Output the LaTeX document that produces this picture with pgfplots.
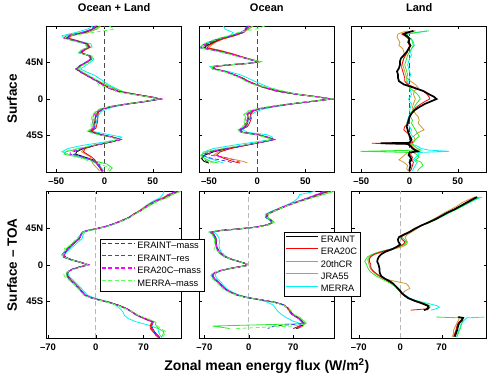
\documentclass[border=0pt]{standalone}
\usepackage{pgfplots}
\usepackage{pgfplotstable}
\pgfplotsset{compat=1.18}
\usepackage{fontspec}
\setmainfont{Liberation Sans}

\definecolor{cRed}{rgb}{1,0,0}
\definecolor{cGreen}{rgb}{0.15,0.92,0.15}
\definecolor{cGold}{rgb}{0.8,0.6,0.2}
\definecolor{cCyan}{rgb}{0,0.95,0.95}
\definecolor{cBlue}{rgb}{0.2,0.25,1}
\definecolor{cMag}{rgb}{1,0,1}
\definecolor{cLGreen}{rgb}{0.35,1,0.35}
\definecolor{cDash}{rgb}{0.25,0.25,0.25}

\pgfplotstableread{
lat A B C D E F G H I
90 -8 -9 -5 -4 -12 -7 -10 -9 5
86 -12 -13 -10 -8 -18 -12 -14 -13 10
82 -20 -22 -25 -17 -30 -21 -22 -24 -12
78 -36 -35 -40 -34 -44 -37 -36 -40 -38
75 -40 -38 -42 -37 -42 -40 -39 -42 -41
72 -30 -29 -33 -28 -30 -31 -30 -32 -34
68 -18 -18 -20 -17 -14 -19 -18 -20 -21
64 -16 -15 -17 -15 -13 -16 -17 -17 -18
60 -22 -21 -24 -21 -24 -22 -22 -23 -25
57 -25 -24 -26 -24 -27 -25 -26 -25 -27
53 -15 -15 -14 -16 -14 -15 -15 -16 -13
49 -14 -14 -13 -15 -11 -14 -14 -15 -12
45 -19 -19 -18 -20 -15 -19 -20 -19 -17
41 -25 -25 -24 -26 -20 -25 -26 -25 -23
37 -29 -29 -28 -30 -25 -29 -30 -29 -27
33 -24 -24 -23 -25 -18 -24 -25 -24 -22
29 -18 -18 -17 -19 -10 -18 -19 -18 -16
25 -12 -12 -11 -13 -5 -12 -13 -12 -10
21 -6 -6 -4 -7 0 -6 -7 -6 -8
17 -1 0 3 -2 5 -1 -2 -1 -6
13 6 7 10 5 12 6 5 6 9
9 15 16 20 14 18 15 14 15 12
5 35 36 35 34 36 35 34 35 33
2 50 51 49 49 52 50 50 51 48
0 58 57 56 57 58 58 57 59 56
-3 42 43 41 42 44 42 43 43 40
-6 24 25 23 24 26 24 25 24 22
-9 8 9 7 8 12 8 9 8 6
-12 -2 -1 -4 -2 3 -2 -1 -2 -5
-16 -7 -6 -9 -7 -4 -7 -6 -8 -10
-20 -9 -7 -12 -9 -6 -9 -8 -11 -13
-26 -10 -7 -12 -10 -8 -10 -9 -12 -14
-32 -11 -8 -13 -11 -9 -11 -10 -12 -14
-36 -11 -9 -13 -12 -10 -11 -11 -12 -14
-40 -15 -14 -17 -16 -12 -15 -15 -16 -18
-44 -4 -3 -6 -5 5 -4 -3 -5 -7
-47 8 9 7 7 18 8 9 8 6
-50 16 17 15 15 14 16 17 16 14
-53 6 7 5 5 0 6 7 6 4
-57 -10 -9 -11 -10 -22 -10 -10 -11 -12
-61 -22 -20 -26 -21 -38 -22 -23 -24 -28
-65 -29 -22 -40 -24 -44 -30 -32 -35 -44
-68 -30 -18 -42 -20 -38 -31 -33 -36 -40
-71 -22 -14 -30 -15 -26 -23 -24 -25 -28
-75 -12 -10 -15 -14 -15 -13 -14 -13 -20
-80 -6 -8 2 -12 -8 -7 -8 -7 -5
-85 -4 -5 8 -8 -3 -4 -5 -4 5
-89 -2 -3 5 -5 -1 -2 -3 -2 3
}\Pone

\pgfplotstableread{
lat A B C D E F G H I
90 -9 -8 -5 -4 -35 -9 -10 -8 8
86 -12 -11 -10 -9 -33 -12 -13 -12 -2
82 -15 -14 -18 -14 -25 -15 -16 -16 -20
78 -25 -24 -28 -23 -28 -26 -27 -27 -30
74 -38 -36 -40 -35 -40 -39 -41 -40 -43
70 -45 -44 -48 -43 -50 -47 -50 -49 -52
66 -52 -50 -55 -48 -57 -54 -58 -57 -58
63 -55 -52 -56 -50 -58 -56 -59 -58 -59
60 -42 -40 -44 -38 -45 -43 -45 -44 -46
56 -28 -27 -29 -26 -30 -28 -30 -29 -31
52 -17 -16 -17 -15 -18 -17 -18 -17 -19
48 -5 -4 -3 -4 -6 -5 -6 -5 -4
46 2 2 4 3 1 2 1 2 3
44 -8 -7 -6 -8 -10 -8 -9 -8 -7
42 -30 -29 -31 -30 -32 -30 -31 -30 -32
40 -45 -44 -47 -45 -49 -46 -47 -46 -48
37 -44 -44 -46 -45 -46 -45 -46 -45 -47
34 -33 -33 -34 -34 -30 -33 -34 -33 -35
30 -24 -24 -25 -25 -18 -24 -25 -24 -26
26 -16 -15 -16 -17 -10 -16 -17 -16 -18
22 -10 -9 -10 -11 -3 -10 -11 -10 -12
18 -2 -1 -1 -3 5 -2 -3 -2 -4
14 8 9 10 7 13 8 7 8 12
10 20 21 24 19 25 20 19 20 26
6 40 41 42 39 42 40 39 40 41
3 60 61 60 59 61 60 60 61 59
0 77 76 79 76 77 77 76 78 78
-3 56 57 55 56 58 56 57 57 54
-6 35 36 34 35 38 35 36 35 33
-9 17 18 16 17 22 17 18 17 15
-12 2 3 0 2 8 2 3 2 0
-15 -6 -4 -9 -6 0 -6 -5 -7 -10
-19 -10 -7 -13 -10 -6 -10 -8 -11 -14
-24 -9 -6 -12 -9 -8 -9 -7 -10 -13
-30 -11 -8 -13 -11 -10 -11 -10 -12 -14
-34 -12 -10 -14 -12 -11 -12 -11 -13 -15
-38 -18 -17 -19 -18 -15 -18 -18 -19 -20
-41 -16 -15 -17 -16 -10 -16 -16 -17 -18
-44 0 1 -1 0 10 0 1 0 -2
-47 10 11 9 10 16 10 11 10 8
-50 17 18 16 16 14 17 18 17 15
-53 5 6 4 4 -2 5 6 5 3
-57 -12 -11 -13 -12 -25 -12 -13 -13 -15
-61 -30 -27 -34 -28 -45 -31 -33 -33 -38
-65 -45 -38 -52 -40 -55 -46 -49 -48 -55
-69 -54 -42 -58 -45 -58 -55 -57 -50 -59
-73 -58 -35 -55 -30 -50 -57 -48 -30 -57
-77 -55 -25 -48 -14 -40 -52 -30 -20 -50
-79 -50 -18 -40 -10 -35 -48 -25 -15 -45
}\Ptwo

\pgfplotstableread{
lat A B C D E
84 4 6 20 -2 18
82 -2 -4 6 -8 9
80 -6 -8 -3 -12 -2
77 -2 -4 -2 -13 -4
74 0 -1 2 -12 2
70 -1 -2 3 -10 4
66 1 0 4 -11 5
62 -1 -1 2 -7 2
58 -3 -2 0 -6 1
54 -6 -4 -2 -5 2
50 -9 -6 -3 -6 0
46 -10 -7 -4 -7 -1
42 -10 -8 -5 -7 -2
38 -11 -8 -4 -6 -1
34 -13 -7 -3 -5 0
30 -12 -6 -2 -4 1
26 -12 -5 -3 -3 0
22 -11 -5 -3 1 -2
18 -6 -2 -2 6 -1
14 4 6 0 9 0
10 14 14 4 5 1
6 20 18 8 4 2
3 25 20 10 5 1
0 28 21 11 6 -1
-3 22 16 9 5 0
-6 16 12 7 4 2
-10 10 7 5 3 1
-14 5 4 3 4 0
-18 2 2 1 6 1
-22 0 0 1 9 -1
-26 -1 0 3 10 -2
-30 -2 -1 2 9 -3
-34 -3 -5 4 12 0
-38 -2 -6 6 15 2
-42 -1 -2 8 8 1
-46 0 1 10 4 3
-50 2 2 6 6 1
-54 0 3 4 2 -1
-54.6 -30 -39 3 1 0
-55.4 -2 -1 2 0 2
-58 1 2 5 3 8
-61 3 4 8 5 12
-63 6 7 12 6 20
-64.5 8 10 -51 8 41
-66 0 2 4 -2 8
-69 -1 1 8 -5 10
-72 1 3 10 -8 6
-75 2 2 6 -11 4
-78 0 4 12 -6 8
-82 1 3 14 -2 6
-86 0 2 10 -3 4
-89 0 1 8 -1 3
}\Pthree

\pgfplotstableread{
lat A B C D E F G H I
90 120 122 125 118 100 121 118 117 124
86 108 110 112 106 98 109 107 106 111
82 100 101 104 98 94 100 99 99 103
78 88 89 91 86 84 88 87 88 90
74 79 80 82 77 76 79 78 79 81
70 72 72 74 70 70 72 71 72 73
66 65 65 66 63 64 65 64 65 66
62 56 56 57 55 55 56 55 56 57
58 49 49 50 48 49 49 48 49 50
54 38 38 39 37 40 38 37 38 39
50 26 26 27 25 28 26 25 26 27
47 15 15 16 14 17 15 14 15 16
44 0 0 1 -1 3 0 -1 0 1
42 -12 -12 -11 -13 -9 -12 -13 -12 -11
40 -19 -19 -18 -20 -16 -19 -20 -19 -18
36 -22 -22 -22 -23 -19 -22 -23 -22 -24
32 -24 -24 -26 -25 -20 -24 -25 -24 -28
28 -30 -30 -32 -31 -26 -30 -31 -30 -33
24 -35 -35 -37 -36 -31 -35 -36 -35 -38
20 -40 -40 -43 -41 -37 -40 -41 -40 -46
16 -44 -44 -46 -45 -42 -44 -45 -44 -44
12 -47 -47 -50 -48 -46 -47 -50 -47 -49
9 -44 -44 -46 -45 -43 -44 -47 -44 -45
6 -35 -35 -36 -36 -34 -35 -37 -35 -36
3 -22 -22 -22 -23 -21 -22 -23 -22 -22
0 -11 -12 -10 -12 -11 -11 -12 -10 -10
-3 -25 -25 -24 -26 -25 -25 -26 -24 -23
-6 -36 -36 -35 -37 -36 -36 -37 -35 -34
-9 -41 -41 -41 -42 -40 -41 -42 -41 -43
-12 -42 -42 -43 -43 -40 -42 -43 -42 -47
-15 -40 -40 -42 -41 -38 -40 -41 -40 -45
-19 -36 -36 -38 -37 -33 -36 -37 -36 -39
-23 -31 -31 -33 -32 -28 -31 -32 -31 -33
-28 -25 -25 -27 -26 -22 -25 -26 -25 -27
-33 -20 -20 -21 -21 -17 -20 -21 -20 -22
-37 -16 -16 -17 -17 -12 -16 -17 -16 -18
-40 -8 -8 -9 -9 -4 -8 -9 -8 -10
-43 5 5 4 4 8 5 4 5 3
-46 20 20 19 19 22 20 19 20 18
-50 35 35 34 34 30 35 34 35 33
-54 46 46 45 45 36 46 45 46 44
-58 54 54 54 53 40 54 53 54 55
-62 61 62 62 60 42 61 60 61 63
-66 72 73 74 71 48 72 71 72 76
-70 84 84 87 82 60 84 83 84 88
-74 82 80 88 80 78 82 81 82 89
-78 83 80 92 81 91 83 82 83 95
-82 86 84 100 84 92 86 85 86 103
-86 90 88 98 88 94 90 89 90 100
-89 94 92 96 91 97 94 93 94 98
}\Pfour

\pgfplotstableread{
lat A B C D E F G H I
90 125 127 135 122 105 126 122 118 132
86 110 112 118 108 80 111 108 106 115
82 95 97 100 93 78 96 94 93 98
78 80 81 83 78 72 80 79 79 82
74 65 66 67 63 62 65 64 65 66
70 52 53 54 51 50 52 51 52 53
66 40 41 42 39 37 40 39 40 41
62 29 30 31 28 26 29 28 29 30
58 28 29 30 27 26 28 27 28 29
55 34 35 36 33 32 34 33 34 35
52 38 39 40 37 36 38 37 38 39
49 30 31 31 29 30 30 29 30 31
46 10 11 11 9 12 10 9 10 11
44 -15 -14 -14 -16 -12 -15 -16 -15 -14
42 -45 -44 -46 -45 -40 -45 -46 -45 -47
40 -60 -59 -62 -60 -56 -60 -61 -60 -63
37 -55 -55 -57 -56 -50 -55 -56 -55 -58
33 -52 -52 -54 -53 -47 -52 -53 -52 -55
28 -51 -51 -53 -52 -46 -51 -52 -51 -54
23 -51 -51 -52 -52 -47 -51 -52 -51 -53
18 -48 -48 -50 -49 -45 -48 -49 -48 -55
14 -44 -44 -46 -45 -42 -44 -45 -44 -40
10 -37 -37 -39 -38 -35 -37 -38 -37 -38
7 -28 -28 -29 -29 -27 -28 -29 -28 -29
4 -15 -15 -16 -16 -14 -15 -16 -15 -16
1 -3 -3 -2 -4 -4 -3 -4 -3 -2
-1 -4 -4 -3 -5 -5 -4 -5 -4 -3
-4 -26 -26 -25 -27 -25 -26 -27 -26 -24
-7 -44 -44 -44 -45 -42 -44 -45 -44 -45
-10 -54 -54 -55 -55 -51 -54 -55 -54 -57
-13 -57 -57 -59 -58 -53 -57 -58 -57 -60
-17 -54 -54 -56 -55 -50 -54 -55 -54 -58
-21 -48 -48 -50 -49 -44 -48 -49 -48 -51
-25 -43 -43 -45 -44 -40 -43 -44 -43 -46
-29 -38 -38 -40 -39 -35 -38 -39 -38 -41
-33 -30 -30 -32 -31 -27 -30 -31 -30 -33
-37 -18 -18 -19 -19 -15 -18 -19 -18 -20
-40 -3 -3 -4 -4 0 -3 -4 -3 -5
-43 20 20 19 19 18 20 19 20 18
-46 42 42 41 41 30 42 41 42 40
-49 55 55 54 54 38 55 54 55 53
-53 62 62 62 61 42 62 61 62 63
-57 65 66 66 64 46 65 64 65 68
-61 69 70 71 68 52 69 68 69 72
-65 78 79 81 77 60 78 77 78 82
-69 84 84 87 82 70 84 83 84 88
-72 88 86 90 85 82 88 86 88 92
-75 82 80 -57 86 80 84 40 84 70
-78 75 70 -30 78 72 76 30 76 -20
}\Pfive

\pgfplotstableread{
lat A B C D E
83 130 128 134 126 138
80 122 120 126 116 128
76 112 110 116 104 116
72 102 101 105 96 106
68 92 91 95 86 95
64 80 80 83 75 84
60 70 70 72 66 73
56 60 60 62 56 62
52 48 48 50 46 50
48 35 35 36 36 36
44 24 25 25 28 25
40 15 16 16 19 15
37 6 8 8 12 6
34 -2 1 2 8 0
31 -4 3 7 10 4
28 -3 8 11 12 9
25 0 5 8 11 6
22 -6 -3 -2 3 -4
19 -14 -16 -18 -12 -18
16 -25 -32 -34 -28 -34
13 -32 -44 -47 -42 -46
10 -36 -50 -55 -50 -52
7 -38 -52 -58 -54 -55
4 -39 -52 -60 -54 -54
1 -37 -50 -57 -53 -52
-2 -36 -50 -56 -52 -50
-5 -35 -49 -54 -50 -48
-8 -35 -45 -51 -47 -45
-11 -34 -40 -46 -42 -40
-14 -32 -34 -40 -36 -34
-17 -26 -27 -32 -28 -26
-20 -18 -20 -24 -10 -19
-23 -12 -13 -16 10 -12
-26 -8 -8 -10 14 -7
-29 -4 -4 -5 16 -3
-32 0 -1 -2 8 0
-35 3 2 2 4 4
-38 8 7 8 10 10
-41 14 13 15 14 17
-44 24 24 26 22 28
-47 36 38 40 34 45
-50 46 48 50 45 62
-52 48 46 50 48 66
-54 46 44 48 46 60
-55.5 40 18 45 42 52
-60 nan nan nan nan nan
-64 98 100 61 96 142
-65 106 106 104 100 112
-68 104 102 106 98 108
-71 100 98 104 96 104
-74 98 96 103 94 102
-77 97 95 102 92 101
-80 96 94 100 90 99
-84 94 92 98 90 97
-88 92 90 96 88 95
}\Psix

\pgfplotsset{
  sA/.style={black, line width=0.9pt},
  sAL/.style={black, line width=1.7pt},
  sB/.style={cRed, line width=0.8pt},
  sC/.style={cGreen, line width=0.8pt},
  sD/.style={cGold, line width=0.8pt},
  sE/.style={cCyan, line width=0.8pt},
  sF/.style={cDash, line width=0.8pt, dash pattern=on 4pt off 2.5pt},
  sG/.style={cBlue, line width=0.8pt, dash pattern=on 4pt off 2.5pt},
  sH/.style={cMag, line width=0.8pt, dash pattern=on 4pt off 2.5pt},
  sI/.style={cLGreen, line width=0.8pt, dash pattern=on 4pt off 2.5pt},
  myax/.style={scale only axis, anchor=south west, width=135pt,
    ymin=-90, ymax=90, ytick={-45,0,45}, yticklabels={},
    tick align=inside, major tick length=3pt,
    axis line style={black, line width=0.5pt},
    tick style={black, line width=0.4pt},
    every tick label/.append style={font=\bfseries\fontsize{9.5}{10}\selectfont},
    xticklabel style={yshift=-2.5pt},
    title style={at={(axis description cs:0.5,1.082)}, anchor=center, font=\bfseries\fontsize{11}{12}\selectfont},
    ylabel style={at={(axis description cs:-0.257,0.5)}, anchor=center, font=\bfseries\fontsize{13.5}{14}\selectfont},
    unbounded coords=jump, clip=true},
  toprow/.style={myax, height=146pt, xtick={-50,0,50}, xticklabels={–50,0,50}},
  botrow/.style={myax, height=147pt, xtick={-70,0,70}, xticklabels={–70,0,70}},
}

\newcommand{\zeroline}[1]{\addplot[#1, line width=0.6pt, dash pattern=on 5pt off 3pt, forget plot] coordinates {(0,-90) (0,90)};}
\newcommand{\nine}[1]{%
  \addplot[sA] table[x=A,y=lat]{#1};
  \addplot[sE] table[x=E,y=lat]{#1};
  \addplot[sD] table[x=D,y=lat]{#1};
  \addplot[sC] table[x=C,y=lat]{#1};
  \addplot[sB] table[x=B,y=lat]{#1};
  \addplot[sF] table[x=F,y=lat]{#1};
  \addplot[sG] table[x=G,y=lat]{#1};
  \addplot[sH] table[x=H,y=lat]{#1};
  \addplot[sI] table[x=I,y=lat]{#1};
}
\newcommand{\five}[1]{%
  \addplot[sE] table[x=E,y=lat]{#1};
  \addplot[sD] table[x=D,y=lat]{#1};
  \addplot[sC] table[x=C,y=lat]{#1};
  \addplot[sB] table[x=B,y=lat]{#1};
  \addplot[sAL] table[x=A,y=lat]{#1};
}

\begin{document}
\begin{tikzpicture}
\useasboundingbox (0,0) rectangle (493pt,376pt);

% ---- top row: Surface
\begin{axis}[toprow, at={(46.7pt,204pt)}, xmin=-60, xmax=80,
  yticklabels={45S,0,45N}, title={Ocean + Land}, ylabel={Surface}]
\zeroline{gray!60!black}
\nine{\Pone}
\end{axis}

\begin{axis}[toprow, at={(199.3pt,204pt)}, xmin=-60, xmax=80, title={Ocean}]
\zeroline{gray!60!black}
\nine{\Ptwo}
\end{axis}

\begin{axis}[toprow, at={(351.7pt,204pt)}, xmin=-60, xmax=80, title={Land}]
\zeroline{gray!60!black}
\five{\Pthree}
\end{axis}

% ---- bottom row: Surface - TOA
\begin{axis}[botrow, at={(46.7pt,37.7pt)}, xmin=-72, xmax=126,
  yticklabels={45S,0,45N}, ylabel={Surface – TOA}]
\zeroline{gray!55}
\nine{\Pfour}
\end{axis}

\begin{axis}[botrow, at={(199.3pt,37.7pt)}, xmin=-78, xmax=135,
  xlabel={Zonal mean energy flux (W/m\textsuperscript{2})},
  xlabel style={at={(axis description cs:0.5,-0.19)}, anchor=center, font=\bfseries\fontsize{14}{15}\selectfont}]
\zeroline{gray!55}
\nine{\Pfive}
\end{axis}

\begin{axis}[botrow, at={(351.7pt,37.7pt)}, xmin=-82, xmax=146]
\zeroline{gray!55}
\five{\Psix}
\end{axis}

% ---- legends (overlay axes)
\begin{axis}[at={(0pt,0pt)}, anchor=south west, scale only axis, width=493pt, height=376pt,
  xmin=0, xmax=1, ymin=0, ymax=1, hide axis,
  legend cell align=left,
  legend image code/.code={\draw[#1, line width=1.2pt] (0pt,3.2pt) -- (33pt,3.2pt);},
  legend style={at={(0.2028,0.3644)}, anchor=north west, draw=black, line width=0.5pt,
    fill=white, font=\fontsize{9.3}{10}\selectfont, inner sep=1pt, row sep=0pt,
    nodes={inner sep=1.9pt, text height=6.8pt, text depth=1.8pt}}]
\addlegendimage{sF}\addlegendentry{ERAINT–mass}
\addlegendimage{sG}\addlegendentry{ERAINT–res}
\addlegendimage{sH}\addlegendentry{ERA20C–mass}
\addlegendimage{sI}\addlegendentry{MERRA–mass}
\end{axis}

\begin{axis}[at={(0pt,0pt)}, anchor=south west, scale only axis, width=493pt, height=376pt,
  xmin=0, xmax=1, ymin=0, ymax=1, hide axis,
  legend cell align=left,
  legend image code/.code={\draw[#1] (0pt,3.2pt) -- (32pt,3.2pt);},
  legend style={at={(0.5761,0.3822)}, anchor=north west, draw=black, line width=0.5pt,
    fill=white, font=\fontsize{9.3}{10}\selectfont, inner sep=1pt, row sep=0pt,
    nodes={inner sep=1.9pt, text height=6.8pt, text depth=1.8pt}}]
\addlegendimage{sAL}\addlegendentry{ERAINT}
\addlegendimage{sB, line width=1pt}\addlegendentry{ERA20C}
\addlegendimage{sC, line width=1pt}\addlegendentry{20thCR}
\addlegendimage{sD, line width=1pt}\addlegendentry{JRA55}
\addlegendimage{sE, line width=1pt}\addlegendentry{MERRA}
\end{axis}
\end{tikzpicture}
\end{document}
